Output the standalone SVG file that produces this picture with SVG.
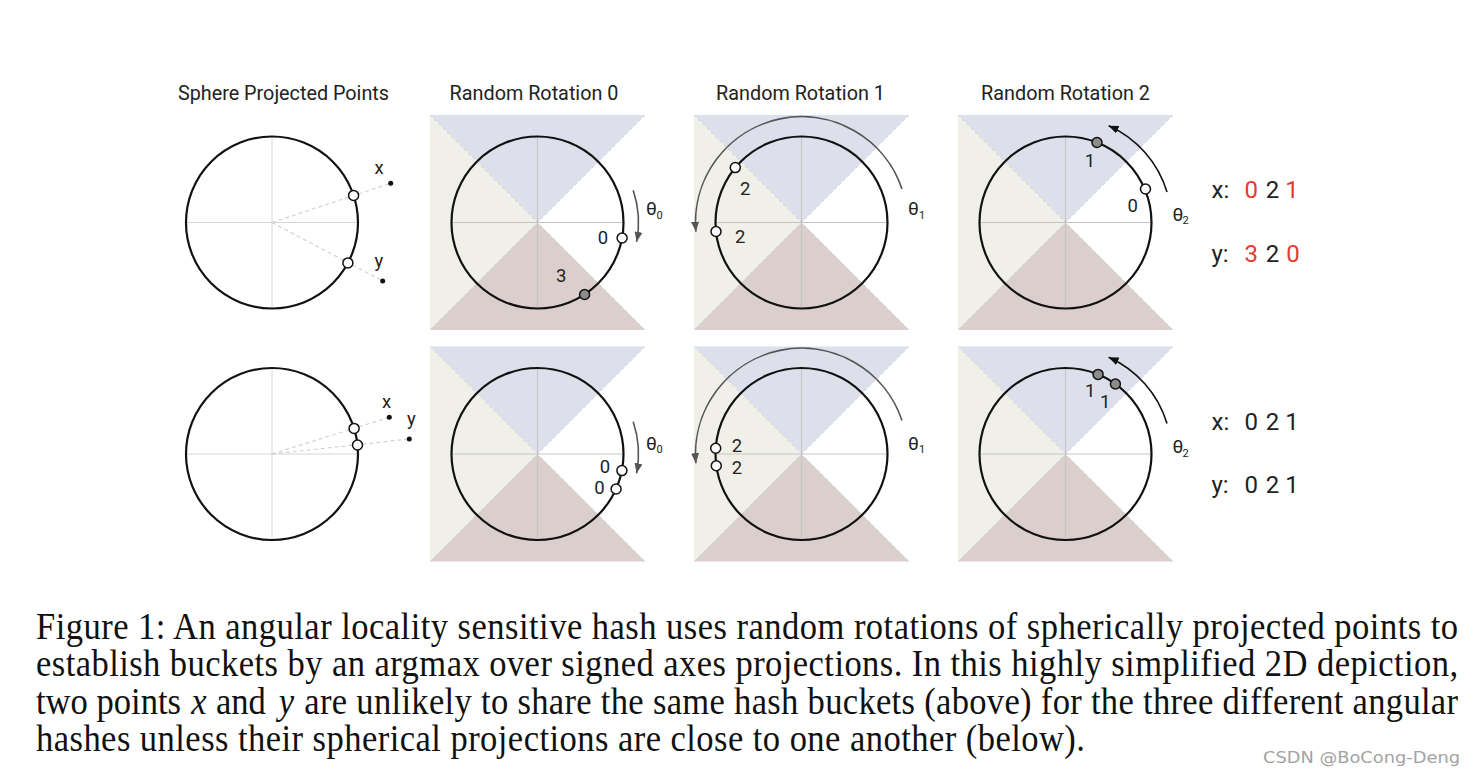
<svg xmlns="http://www.w3.org/2000/svg" width="1474" height="778" viewBox="0 0 1474 778">
<style>
  .title{font-family:Roboto,"Liberation Sans",sans-serif;font-size:19.8px;fill:#222;text-anchor:middle}
  .lbl{font-family:Roboto,"Liberation Sans",sans-serif;font-size:18.5px;fill:#222;text-anchor:middle}
  .th{font-family:Roboto,"Liberation Sans",sans-serif;font-size:19px;fill:#222}
  .sub{font-family:Roboto,"Liberation Sans",sans-serif;font-size:11px;fill:#222}
  .code{font-family:Roboto,"Liberation Sans",sans-serif;font-size:24px;fill:#222;text-anchor:middle}
  .codel{font-family:Roboto,"Liberation Sans",sans-serif;font-size:24px;fill:#222}
  .red{fill:#e53a2f}
  .cap{font-family:"Liberation Serif","Times New Roman",serif;font-size:37px;fill:#111}
  .it{font-style:italic}
  .ring{fill:none;stroke:#111;stroke-width:2.2}
  .axis{stroke:#c4c4c4;stroke-width:1}
  .axis2{stroke:#d6d6d6;stroke-width:1}
  .pw{fill:#fff;stroke:#111;stroke-width:1.5}
  .pg{fill:#8c8c8c;stroke:#111;stroke-width:1.5}
  .dot{fill:#111}
  .proj{stroke:#cfcfcf;stroke-width:1.1;stroke-dasharray:4 3;fill:none}
  .rotg{fill:none;stroke:#555;stroke-width:1.6}
  .rotk{fill:none;stroke:#111;stroke-width:1.6}
</style>
<defs>
  <marker id="ahg" markerUnits="userSpaceOnUse" markerWidth="10" markerHeight="8" refX="10" refY="4" orient="auto">
    <path d="M0,0 L10,4 L0,8 z" fill="#555"/>
  </marker>
  <marker id="ahk" markerUnits="userSpaceOnUse" markerWidth="10" markerHeight="8" refX="10" refY="4" orient="auto">
    <path d="M0,0 L10,4 L0,8 z" fill="#111"/>
  </marker>
  <g id="quad">
    <polygon points="0,0 215,0 107.5,107.5" fill="#dde0ea"/>
    <polygon points="0,0 107.5,107.5 0,215" fill="#f0f0e8"/>
    <polygon points="0,215 107.5,107.5 215,215" fill="#dacfcd"/>
    <path d="M0,0 L215,215 M215,0 L0,215" stroke="#cacaca" stroke-width="0.8" stroke-dasharray="3 3" fill="none"/>
    <path d="M107.5,21.5 V193.5 M21.5,107.5 H193.5" class="axis"/>
    <circle cx="107.5" cy="107.5" r="86" class="ring"/>
  </g>
  <g id="sph">
    <path d="M0,-86 V86 M-86,0 H86" class="axis2"/>
    <circle cx="0" cy="0" r="86" class="ring"/>
  </g>
</defs>
<rect width="1474" height="778" fill="#fff"/>

<g id="titles">
  <text class="title" x="283.5" y="100">Sphere Projected Points</text>
  <text class="title" x="534" y="100">Random Rotation 0</text>
  <text class="title" x="800.5" y="100">Random Rotation 1</text>
  <text class="title" x="1065.5" y="100">Random Rotation 2</text>
</g>

<!-- top row -->
<g id="sphere-top">
  <use href="#sph" x="272" y="222.5"/>
  <path d="M272,222.5 L390.7,183.3 M272,222.5 L382.7,281" class="proj"/>
  <circle cx="353.6" cy="195.4" r="5" class="pw"/>
  <circle cx="347.9" cy="262.9" r="5" class="pw"/>
  <circle cx="390.7" cy="183.3" r="2.5" class="dot"/>
  <circle cx="382.7" cy="281" r="2.5" class="dot"/>
  <text class="lbl" x="379" y="174">x</text>
  <text class="lbl" x="379" y="267">y</text>
</g>
<g id="rot0-top">
  <use href="#quad" x="430" y="115"/>
  <circle cx="622.1" cy="238" r="5" class="pw"/>
  <circle cx="584.6" cy="294.5" r="5" class="pg"/>
  <text class="lbl" x="603" y="243.5">0</text>
  <text class="lbl" x="561.3" y="281.7">3</text>
  <text class="th" x="646" y="215">θ</text><text class="sub" x="656.5" y="219">0</text>
</g>
<g id="rot1-top">
  <use href="#quad" x="694" y="115"/>
  <circle cx="735.3" cy="167.6" r="5" class="pw"/>
  <circle cx="716" cy="231.5" r="5" class="pw"/>
  <text class="lbl" x="745.3" y="195">2</text>
  <text class="lbl" x="740.3" y="243.3">2</text>
  <text class="th" x="908" y="215">θ</text><text class="sub" x="919" y="219">1</text>
</g>
<g id="rot2-top">
  <use href="#quad" x="958" y="115"/>
  <circle cx="1097" cy="142.5" r="5" class="pg"/>
  <circle cx="1145.5" cy="189" r="5" class="pw"/>
  <text class="lbl" x="1090" y="167.3">1</text>
  <text class="lbl" x="1132.8" y="211.7">0</text>
  <text class="th" x="1172.5" y="220.5">θ</text><text class="sub" x="1182.5" y="224">2</text>
</g>
<g id="codes-top">
  <text class="codel" x="1211.5" y="198.3">x:</text>
  <text class="code red" x="1251.3" y="198.3">0</text>
  <text class="code" x="1272.5" y="198.3">2</text>
  <text class="code red" x="1292" y="198.3">1</text>
  <text class="codel" x="1211.5" y="262.3">y:</text>
  <text class="code red" x="1251.3" y="262.3">3</text>
  <text class="code" x="1272.5" y="262.3">2</text>
  <text class="code red" x="1293" y="262.3">0</text>
</g>

<!-- bottom row -->
<g id="sphere-bottom">
  <use href="#sph" x="272" y="454"/>
  <path d="M272,454 L389.3,417.3 M272,454 L409.3,439" class="proj"/>
  <circle cx="354.1" cy="428.4" r="5" class="pw"/>
  <circle cx="357.5" cy="445" r="5" class="pw"/>
  <circle cx="389.3" cy="417.3" r="2.5" class="dot"/>
  <circle cx="409.3" cy="439" r="2.5" class="dot"/>
  <text class="lbl" x="386.7" y="408.3">x</text>
  <text class="lbl" x="411.3" y="425">y</text>
</g>
<g id="rot0-bottom">
  <use href="#quad" x="430" y="346.5"/>
  <circle cx="621.9" cy="470.6" r="5" class="pw"/>
  <circle cx="616.1" cy="489" r="5" class="pw"/>
  <text class="lbl" x="605" y="473.3">0</text>
  <text class="lbl" x="599.5" y="494">0</text>
  <text class="th" x="646" y="450">θ</text><text class="sub" x="656.5" y="453">0</text>
</g>
<g id="rot1-bottom">
  <use href="#quad" x="694" y="346.5"/>
  <circle cx="715.7" cy="448.3" r="5" class="pw"/>
  <circle cx="716.3" cy="465.7" r="5" class="pw"/>
  <text class="lbl" x="737" y="452.3">2</text>
  <text class="lbl" x="737" y="474">2</text>
  <text class="th" x="908" y="450">θ</text><text class="sub" x="919" y="453">1</text>
</g>
<g id="rot2-bottom">
  <use href="#quad" x="958" y="346.5"/>
  <circle cx="1098.1" cy="374.4" r="5" class="pg"/>
  <circle cx="1115.4" cy="384" r="5" class="pg"/>
  <text class="lbl" x="1090.3" y="396.7">1</text>
  <text class="lbl" x="1105.3" y="408.3">1</text>
  <text class="th" x="1172.5" y="453.3">θ</text><text class="sub" x="1182.5" y="457">2</text>
</g>
<g id="codes-bottom">
  <text class="codel" x="1211.5" y="430">x:</text>
  <text class="code" x="1251.3" y="430">0</text>
  <text class="code" x="1272.5" y="430">2</text>
  <text class="code" x="1292" y="430">1</text>
  <text class="codel" x="1211.5" y="493.3">y:</text>
  <text class="code" x="1251.3" y="493.3">0</text>
  <text class="code" x="1272.5" y="493.3">2</text>
  <text class="code" x="1292" y="493.3">1</text>
</g>

<g id="connectors">
  <path d="M633.2,190.3 A101,101 0 0 1 636.6,241.8" class="rotg" marker-end="url(#ahg)"/>
  <path d="M902,188.9 A106,106 0 0 0 695.9,231.7" class="rotg" marker-end="url(#ahg)"/>
  <path d="M1167,192 A106,106 0 0 0 1108.6,125.7" class="rotk" marker-end="url(#ahk)"/>
  <path d="M633.2,421.8 A101,101 0 0 1 636.6,473.3" class="rotg" marker-end="url(#ahg)"/>
  <path d="M902,420.4 A106,106 0 0 0 695.9,463.2" class="rotg" marker-end="url(#ahg)"/>
  <path d="M1167,423.5 A106,106 0 0 0 1108.6,357.2" class="rotk" marker-end="url(#ahk)"/>
</g>

<g id="caption" transform="matrix(0.935 0 0 1 36 0)">
  <text class="cap" x="0" y="639" textLength="1520.9" lengthAdjust="spacing">Figure 1: An angular locality sensitive hash uses random rotations of spherically projected points to</text>
  <text class="cap" x="0" y="676.5" textLength="1520.9" lengthAdjust="spacing">establish buckets by an argmax over signed axes projections. In this highly simplified 2D depiction,</text>
  <text class="cap" x="0" y="714">two points</text>
  <text class="cap it" x="166" y="714">x</text>
  <text class="cap" x="192.5" y="714">and</text>
  <text class="cap it" x="259.5" y="714">y</text>
  <text class="cap" x="287" y="714" textLength="1233.9" lengthAdjust="spacing">are unlikely to share the same hash buckets (above) for the three different angular</text>
  <text class="cap" x="0" y="751.5" textLength="1121.9" lengthAdjust="spacing">hashes unless their spherical projections are close to one another (below).</text>
</g>
<text x="1263" y="763" font-family="'DejaVu Sans Condensed','Liberation Sans',sans-serif" font-size="16" fill="#a3a3a3" textLength="197" lengthAdjust="spacingAndGlyphs">CSDN @BoCong-Deng</text>
</svg>
